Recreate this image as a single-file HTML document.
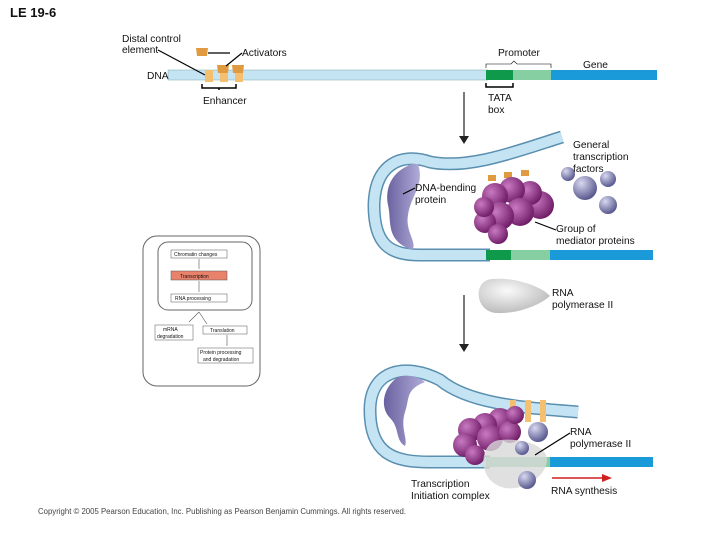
<!DOCTYPE html>
<html><head><style>
body{margin:0;background:#fff;width:720px;height:540px;overflow:hidden}
svg{display:block}
text{font-family:"Liberation Sans",sans-serif;font-size:10.2px;fill:#111}
</style></head><body>
<svg width="720" height="540" viewBox="0 0 720 540">
<defs>
<radialGradient id="pm" cx="35%" cy="35%" r="70%"><stop offset="0" stop-color="#c87ac0"/><stop offset="1" stop-color="#6e1a66"/></radialGradient>
<radialGradient id="pb" cx="35%" cy="30%" r="70%"><stop offset="0" stop-color="#d8d8f0"/><stop offset="1" stop-color="#5a5a90"/></radialGradient>
<radialGradient id="pg" cx="40%" cy="35%" r="70%"><stop offset="0" stop-color="#fafafa"/><stop offset="1" stop-color="#b8b8b8"/></radialGradient>
<linearGradient id="pbend" x1="0" x2="1"><stop offset="0" stop-color="#6a62a0"/><stop offset="1" stop-color="#b0acd8"/></linearGradient>
</defs>
<text x="10" y="17" style="font-size:13px;font-weight:bold">LE 19-6</text>

<!-- top DNA -->
<rect x="168" y="70" width="320" height="10" fill="#c5e4f3" stroke="#7aa" stroke-width="0.5"/>
<rect x="486" y="70" width="27" height="10" fill="#0e9a4a"/>
<rect x="513" y="70" width="38" height="10" fill="#86cfa2"/>
<rect x="551" y="70" width="106" height="10" fill="#1a9ad8"/>
<text x="147" y="79">DNA</text>
<text x="122" y="42">Distal control</text><text x="122" y="53">element</text>
<line x1="158" y1="50" x2="205" y2="75" stroke="#000" stroke-width="1.2"/>
<rect x="205" y="70" width="8" height="12" fill="#f4c070"/>
<rect x="220" y="70" width="8" height="12" fill="#f4c070"/>
<rect x="235" y="70" width="8" height="12" fill="#f4c070"/>
<path d="M196 48h12l-1 8h-10z M217 65h12l-1 8h-10z M232 65h12l-1 8h-10z" fill="#e09a40"/>
<line x1="208" y1="53" x2="230" y2="53" stroke="#000" stroke-width="1.2"/>
<line x1="242" y1="53" x2="226" y2="66" stroke="#000" stroke-width="1.2"/>
<text x="242" y="56">Activators</text>
<path d="M202 84v4h34v-4 M219 88v2" fill="none" stroke="#000" stroke-width="1.5"/>
<text x="203" y="104">Enhancer</text>
<text x="498" y="56">Promoter</text>
<path d="M486 68v-4h25l3 -3 3 3h34v4" fill="none" stroke="#000" stroke-width="0.6"/>
<text x="583" y="68">Gene</text>
<path d="M486 83v4h27v-4" fill="none" stroke="#000" stroke-width="1.5"/>
<text x="488" y="101">TATA</text><text x="488" y="113">box</text>
<line x1="464" y1="92" x2="464" y2="138" stroke="#222" stroke-width="1.2"/>
<path d="M459 136l5 8 5-8z" fill="#222"/>

<!-- middle -->
<path d="M562 137 C520 150 470 170 430 162 C400 152 375 165 374 205 C374 245 390 255 420 255 L490 255" fill="none" stroke="#5a8fb0" stroke-width="13"/>
<path d="M562 137 C520 150 470 170 430 162 C400 152 375 165 374 205 C374 245 390 255 420 255 L490 255" fill="none" stroke="#c5e4f3" stroke-width="10"/>
<rect x="486" y="250" width="25" height="10" fill="#0e9a4a"/>
<rect x="511" y="250" width="39" height="10" fill="#86cfa2"/>
<rect x="550" y="250" width="103" height="10" fill="#1a9ad8"/>
<path d="M412 164 C390 172 385 190 388 205 C392 222 385 240 412 250 C418 243 405 232 408 215 C411 195 425 185 418 164 Z" fill="url(#pbend)"/>
<text x="415" y="191">DNA-bending</text><text x="415" y="203">protein</text>
<line x1="403" y1="194" x2="415" y2="188" stroke="#000" stroke-width="1.2"/>
<path d="M488 175h8v6h-8z M504 172h8v6h-8z M521 170h8v6h-8z" fill="#e09a40"/>
<g fill="url(#pm)">
<circle cx="540" cy="205" r="14"/><circle cx="530" cy="193" r="12"/><circle cx="512" cy="190" r="13"/>
<circle cx="495" cy="196" r="13"/><circle cx="520" cy="212" r="14"/><circle cx="500" cy="216" r="14"/>
<circle cx="485" cy="222" r="11"/><circle cx="498" cy="234" r="10"/><circle cx="484" cy="207" r="10"/>
</g>
<line x1="535" y1="222" x2="556" y2="230" stroke="#000" stroke-width="1.2"/>
<text x="556" y="232">Group of</text><text x="556" y="244">mediator proteins</text>
<g fill="url(#pb)">
<circle cx="568" cy="174" r="7"/><circle cx="585" cy="188" r="12"/><circle cx="608" cy="179" r="8"/><circle cx="608" cy="205" r="9"/>
</g>
<text x="573" y="148">General</text><text x="573" y="160">transcription</text><text x="573" y="172">factors</text>
<path d="M492 279 C472 281 475 312 497 313 C518 314 540 305 550 296 C540 285 512 277 492 279Z" fill="url(#pg)"/>
<text x="552" y="296">RNA</text><text x="552" y="308">polymerase II</text>
<line x1="464" y1="295" x2="464" y2="346" stroke="#222" stroke-width="1.2"/>
<path d="M459 344l5 8 5-8z" fill="#222"/>

<!-- bottom -->
<path d="M578 412 C530 408 470 405 440 380 C405 362 370 370 370 410 C370 455 395 462 430 462 L490 462" fill="none" stroke="#5a8fb0" stroke-width="13"/>
<path d="M578 412 C530 408 470 405 440 380 C405 362 370 370 370 410 C370 455 395 462 430 462 L490 462" fill="none" stroke="#c5e4f3" stroke-width="10"/>
<rect x="486" y="457" width="64" height="10" fill="#86cfa2"/>
<rect x="550" y="457" width="103" height="10" fill="#1a9ad8"/>
<path d="M398 377 C382 388 380 408 390 418 C400 428 395 440 405 446 C408 438 400 428 405 412 C410 398 405 390 425 382 C418 376 405 374 398 377 Z" fill="url(#pbend)"/>
<path d="M510 400h6v22h-6z M525 400h6v22h-6z M540 400h6v22h-6z" fill="#f4c070"/>
<g fill="url(#pm)">
<circle cx="500" cy="420" r="12"/><circle cx="485" cy="425" r="12"/><circle cx="470" cy="430" r="12"/>
<circle cx="490" cy="438" r="13"/><circle cx="465" cy="445" r="12"/><circle cx="475" cy="455" r="10"/><circle cx="510" cy="432" r="11"/><circle cx="515" cy="415" r="9"/>
</g>
<path d="M500 440 C478 442 476 482 505 488 C530 491 547 472 547 460 C547 445 522 438 500 440Z" fill="#d8d8d8" opacity="0.8"/>
<g fill="url(#pb)"><circle cx="538" cy="432" r="10"/><circle cx="522" cy="448" r="7"/><circle cx="527" cy="480" r="9"/></g>
<line x1="535" y1="455" x2="570" y2="433" stroke="#000" stroke-width="1.2"/>
<text x="570" y="435">RNA</text><text x="570" y="447">polymerase II</text>
<text x="411" y="487">Transcription</text><text x="411" y="499">Initiation complex</text>
<line x1="552" y1="478" x2="605" y2="478" stroke="#d02020" stroke-width="1.5"/>
<path d="M602 474l10 4-10 4z" fill="#d02020"/>
<text x="551" y="494">RNA synthesis</text>

<!-- inset -->
<rect x="143" y="236" width="117" height="150" rx="14" fill="#fff" stroke="#666"/>
<rect x="158" y="242" width="94" height="68" rx="10" fill="#fff" stroke="#666"/>
<g style="font-size:5px">
<rect x="171" y="250" width="56" height="8" fill="#fff" stroke="#555" stroke-width="0.5"/><text x="174" y="256" style="font-size:5px">Chromatin changes</text>
<rect x="171" y="271" width="56" height="9" fill="#e8826a" stroke="#555" stroke-width="0.5"/><text x="180" y="278" style="font-size:5px">Transcription</text>
<rect x="171" y="294" width="56" height="8" fill="#fff" stroke="#555" stroke-width="0.5"/><text x="175" y="300" style="font-size:5px">RNA processing</text>
<rect x="155" y="325" width="38" height="15" fill="#fff" stroke="#555" stroke-width="0.5"/><text x="163" y="331" style="font-size:5px">mRNA</text><text x="157" y="338" style="font-size:5px">degradation</text>
<rect x="203" y="326" width="44" height="8" fill="#fff" stroke="#555" stroke-width="0.5"/><text x="210" y="332" style="font-size:5px">Translation</text>
<rect x="198" y="348" width="55" height="15" fill="#fff" stroke="#555" stroke-width="0.5"/><text x="200" y="354" style="font-size:5px">Protein processing</text><text x="203" y="361" style="font-size:5px">and degradation</text>
</g>
<path d="M199 259v10 M199 281v11 M199 312l-10 10 M199 312l8 12 M227 335v11" stroke="#555" stroke-width="0.6"/>

<text x="38" y="514" style="font-size:7.8px;fill:#444">Copyright © 2005 Pearson Education, Inc. Publishing as Pearson Benjamin Cummings. All rights reserved.</text>
</svg>
</body></html>
